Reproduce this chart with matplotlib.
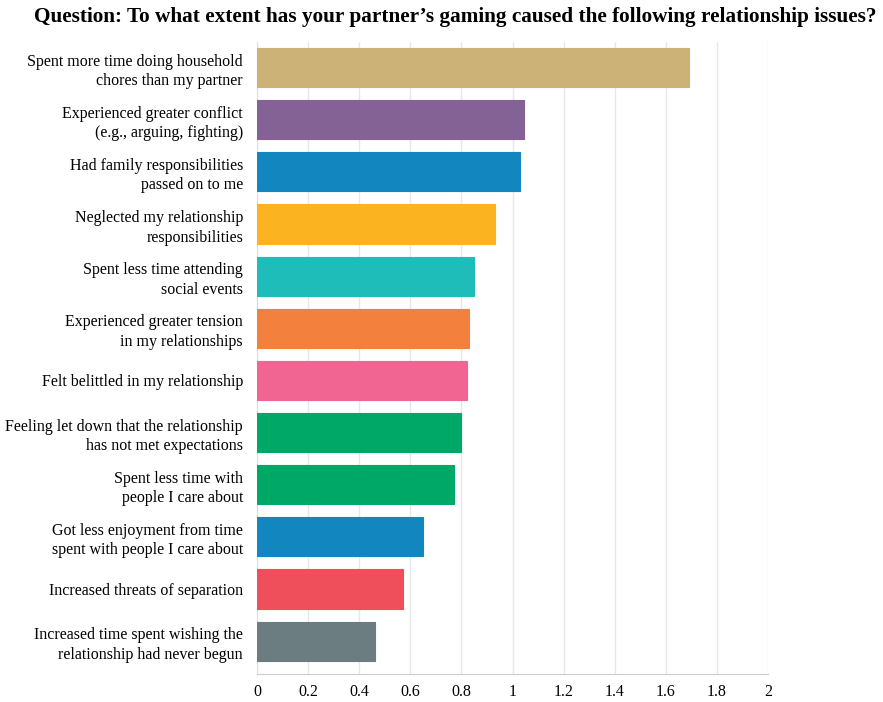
import matplotlib.pyplot as plt

# survey categories, top to bottom
issues = [
    "Spent more time doing household\nchores than my partner",
    "Experienced greater conflict\n(e.g., arguing, fighting)",
    "Had family responsibilities\npassed on to me",
    "Neglected my relationship\nresponsibilities",
    "Spent less time attending\nsocial events",
    "Experienced greater tension\nin my relationships",
    "Felt belittled in my relationship",
    "Feeling let down that the relationship\nhas not met expectations",
    "Spent less time with\npeople I care about",
    "Got less enjoyment from time\nspent with people I care about",
    "Increased threats of separation",
    "Increased time spent wishing the\nrelationship had never begun",
]
scores = [1.69, 1.045, 1.03, 0.93, 0.85, 0.83, 0.82, 0.80, 0.77, 0.65, 0.57, 0.46]
bar_colors = ["#CDB277", "#846295", "#1287BF", "#FBB41F", "#1FBDBA", "#F3803D",
              "#F06592", "#00A868", "#00A868", "#1287BF", "#EF4F5A", "#6C7D82"]
xticks = [0, 0.2, 0.4, 0.6, 0.8, 1, 1.2, 1.4, 1.6, 1.8, 2]
xtick_labels = ["0", "0.2", "0.4", "0.6", "0.8", "1", "1.2", "1.4", "1.6", "1.8", "2"]

plt.rcParams['font.family'] = ['Liberation Serif', 'DejaVu Serif']

fig = plt.figure(figsize=(8.83, 7.02), dpi=100)
ax = fig.add_axes([257 / 883, 1 - 674 / 702, (768 - 257) / 883, (674 - 42) / 702])

ypos = list(range(len(issues)))
ax.barh(ypos, scores, height=0.75, color=bar_colors, edgecolor=bar_colors,
        linewidth=0.8, zorder=3)

ax.set_xlim(0, 2.0)
ax.set_ylim(len(issues) - 1 + 0.63, -0.49)
ax.set_yticks(ypos)
ax.set_yticklabels(issues, fontsize=11.5, linespacing=1.3)
ax.set_xticks(xticks)
ax.set_xticklabels(xtick_labels, fontsize=11.5)
ax.tick_params(axis='y', length=0, pad=10)
ax.tick_params(axis='x', length=0, pad=7)

ax.grid(axis='x', color='#e8e8e8', linewidth=1, zorder=0)
for side in ['top', 'right']:
    ax.spines[side].set_visible(False)
ax.spines['left'].set_color('#dddddd')
ax.spines['bottom'].set_color('#cccccc')

fig.text(0.5 + 14 / 883, 1 - 17 / 702, "Question: To what extent has your partner\u2019s gaming caused the following relationship issues?",
         ha='center', va='center', fontsize=15.3, fontweight='bold')

fig.savefig("out.png", dpi=100)
